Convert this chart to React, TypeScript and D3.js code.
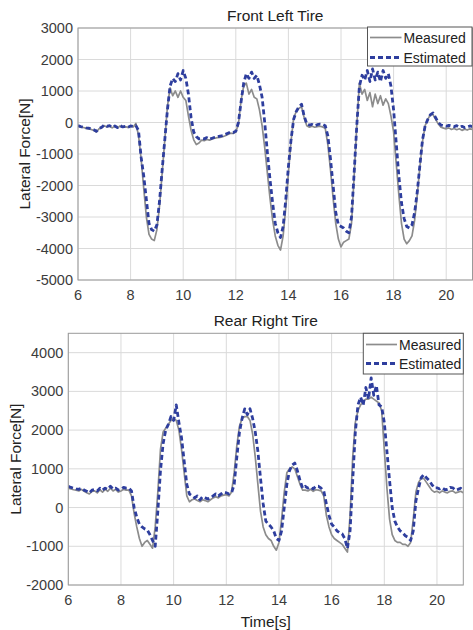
import React from 'react';
import * as d3 from 'd3';

// sample times: 6.0 s .. 21.0 s every 0.1 s
const sampleCount = 151;
const time = d3.range(sampleCount).map((i) => +(6 + i * 0.1).toFixed(1));

const xTickValues = [6, 8, 10, 12, 14, 16, 18, 20];
const flTickValues = [3000, 2000, 1000, 0, -1000, -2000, -3000, -4000, -5000];
const rrTickValues = [4000, 3000, 2000, 1000, 0, -1000, -2000];
const legendLabels = ['Measured', 'Estimated'];

// Front Left Tire
const flMeasured = [
  -100, -140, -160, -180, -200, -220, -250, -300, -200, -170,
  -100, -140, -110, -170, -120, -170, -110, -150, -130, -160,
  -120, -140, -30, -400, -1150, -2100, -3000, -3550, -3700, -3750,
  -3400, -2650, -1600, -550, 500, 1100, 850, 1000, 800, 1000,
  800, 700, 200, -250, -550, -700, -650, -560, -580, -540,
  -560, -520, -500, -480, -470, -450, -420, -380, -340, -350,
  -300, -50, 700, 1150, 1250, 900, 1050, 800, 750, 400,
  -100, -800, -1600, -2400, -3100, -3600, -3900, -4050, -3600, -2700,
  -1600, -600, 150, 350, 450, 500, 150, -100, -150, -120,
  -150, -130, -120, -140, -180, -700, -1500, -2400, -3200, -3700,
  -3950, -3800, -3750, -3700, -3200, -1700, -100, 1250, 900, 1050,
  700, 950, 500, 900, 600, 850, 550, 750, 600, 200,
  -300, -1300, -2300, -3200, -3700, -3850, -3750, -3600, -3100, -2300,
  -1400, -600, -100, 100, 250, 250, 100, -50, -150, -180,
  -200, -170, -220, -190, -230, -200, -250, -210, -240, -200,
  -220,
];
const flEstimated = [
  -100, -130, -150, -170, -180, -200, -230, -280, -200, -150,
  -80, -120, -100, -150, -110, -160, -100, -140, -120, -150,
  -110, -130, -100, -250, -1100, -1700, -2450, -3200, -3400, -3450,
  -3250, -2500, -1500, -550, 400, 1150, 1400, 1300, 1550, 1350,
  1650, 1400, 900, 150, -300, -450, -520, -500, -520, -480,
  -530, -500, -470, -450, -430, -420, -380, -340, -300, -320,
  -280, 0, 650, 1250, 1550, 1400, 1600, 1400, 1500, 1200,
  800, 0, -950, -1800, -2550, -3200, -3500, -3650, -3300, -2450,
  -1400, -550, 100, 350, 500, 580, 200, -50, -80, -60,
  -100, -70, -50, -60, -100, -420, -1150, -2000, -2850, -3250,
  -3300, -3350, -3450, -3500, -3000, -1600, -100, 1150, 1500, 1350,
  1650, 1300, 1700, 1350, 1600, 1300, 1650, 1400, 1550, 1150,
  400, -650, -1700, -2550, -3050, -3300, -3350, -3250, -2850, -2200,
  -1350, -550, -100, 100, 250, 300, 150, 0, -80, -100,
  -120, -90, -110, -130, -100, -150, -120, -160, -140, -110,
  -130,
];

// Rear Right Tire
const rrMeasured = [
  500, 480, 460, 450, 430, 470, 420, 380, 350, 420,
  430, 380, 460, 400, 470, 420, 500, 430, 470, 400,
  430, 470, 450, 450, 300, -150, -500, -800, -1000, -900,
  -850, -950, -1050, -500, 400, 1500, 1950, 2050, 2150, 2250,
  2300, 2250, 2000, 1500, 900, 300, 150, 200, 220, 180,
  150, 200, 180, 150, 200, 250, 280, 250, 300, 320,
  330, 300, 400, 900, 1600, 2100, 2300, 2350, 2350, 2250,
  1900, 1300, 600, -100, -500, -700, -800, -850, -1000, -1100,
  -900, -300, 400, 900, 1000, 1050, 1000, 800, 600, 450,
  450, 430, 470, 420, 460, 450, 430, 300, -200, -500,
  -700, -800, -850, -900, -950, -1050, -1150, -200, 1300, 2200,
  2500, 2650, 2750, 2800, 2800, 2850, 2800, 2750, 2700, 2500,
  1500, 500, -300, -700, -850, -900, -900, -950, -950, -1000,
  -900, -300, 400, 650, 750, 750, 650, 550, 450, 400,
  420, 380, 430, 400, 380, 420, 430, 380, 400, 420,
  380,
];
const rrEstimated = [
  550, 520, 500, 480, 470, 500, 450, 420, 380, 450,
  470, 430, 500, 450, 500, 470, 550, 480, 500, 450,
  470, 520, 500, 500, 430, 0, -250, -430, -500, -550,
  -580, -700, -850, -1000, -100, 950, 1650, 2000, 2150, 2350,
  2250, 2650, 2200, 1800, 1200, 600, 350, 300, 250, 300,
  200, 280, 250, 220, 250, 300, 350, 300, 350, 400,
  380, 350, 380, 600, 1300, 1950, 2300, 2550, 2400, 2550,
  2300, 1950, 1450, 750, 100, -350, -430, -500, -600, -800,
  -850, -600, 0, 600, 950, 1100, 1150, 950, 700, 500,
  550, 500, 530, 480, 550, 550, 500, 430, 100, -200,
  -430, -500, -600, -650, -680, -800, -1050, -600, 700, 1950,
  2650, 2850, 2650, 3100, 2800, 3350, 2900, 3150, 2650, 2600,
  2200, 1450, 700, 0, -350, -500, -600, -650, -730, -770,
  -850, -600, 170, 500, 770, 850, 770, 700, 600, 510,
  510, 480, 510, 460, 470, 520, 510, 450, 470, 500,
  430,
];

const FONT = '"Liberation Sans", Arial, Helvetica, sans-serif';
const GRAY = '#8c8c8c';
const BLUE = '#2e3e9e';
const GRID = '#dadada';
const AXIS = '#9a9a9a';
const TEXT = '#3c3c3c';

type PanelProps = {
  id: string;
  title: string;
  left: number;
  right: number;
  top: number;
  bottom: number;
  yDomain: [number, number];
  yTicks: number[];
  measured: number[];
  estimated: number[];
  yLabelX: number;
  showXLabel: boolean;
  legendBox: { x0: number; y0: number; x1: number; y1: number; row1: number; row2: number; lx0: number; lx1: number };
};

function Panel(p: PanelProps) {
  const x = d3.scaleLinear().domain([6, 21]).range([p.left, p.right]);
  const y = d3.scaleLinear().domain(p.yDomain).range([p.bottom, p.top]);
  const line = d3
    .line<number>()
    .x((_, i) => x(time[i]))
    .y((d) => y(d));
  const lb = p.legendBox;
  return (
    <g>
      <defs>
        <clipPath id={p.id}>
          <rect x={p.left} y={p.top} width={p.right - p.left} height={p.bottom - p.top} />
        </clipPath>
      </defs>
      <rect x={p.left} y={p.top} width={p.right - p.left} height={p.bottom - p.top} fill="#fff" />
      {xTickValues.map((t) => (
        <line key={'gx' + t} x1={x(t)} x2={x(t)} y1={p.top} y2={p.bottom} stroke={GRID} strokeWidth={1} />
      ))}
      {p.yTicks.map((t) => (
        <line key={'gy' + t} x1={p.left} x2={p.right} y1={y(t)} y2={y(t)} stroke={GRID} strokeWidth={1} />
      ))}
      <g clipPath={`url(#${p.id})`}>
        <path d={line(p.measured) || ''} fill="none" stroke={GRAY} strokeWidth={1.7} strokeLinejoin="round" />
        <path
          d={line(p.estimated) || ''}
          fill="none"
          stroke={BLUE}
          strokeWidth={2.8}
          strokeDasharray="5,3"
          strokeLinejoin="round"
        />
      </g>
      <rect x={p.left} y={p.top} width={p.right - p.left} height={p.bottom - p.top} fill="none" stroke={AXIS} strokeWidth={1} />
      {xTickValues.map((t) => (
        <text key={'tx' + t} x={x(t)} y={p.bottom + 20} textAnchor="middle" fontFamily={FONT} fontSize={14.5} fill={TEXT}>
          {t}
        </text>
      ))}
      {p.yTicks.map((t) => (
        <text key={'ty' + t} x={p.left - 5} y={y(t) + 5} textAnchor="end" fontFamily={FONT} fontSize={14.5} fill={TEXT}>
          {t}
        </text>
      ))}
      <text x={(p.left + p.right) / 2} y={p.top - 7} textAnchor="middle" fontFamily={FONT} fontSize={15.5} fill="#222">
        {p.title}
      </text>
      <text
        transform={`translate(${p.yLabelX},${(p.top + p.bottom) / 2}) rotate(-90)`}
        textAnchor="middle"
        fontFamily={FONT}
        fontSize={15.5}
        fill="#222"
      >
        Lateral Force[N]
      </text>
      {p.showXLabel && (
        <text x={(p.left + p.right) / 2} y={p.bottom + 42} textAnchor="middle" fontFamily={FONT} fontSize={15.5} fill="#222">
          Time[s]
        </text>
      )}
      <rect x={lb.x0} y={lb.y0} width={lb.x1 - lb.x0} height={lb.y1 - lb.y0} fill="#fff" stroke="#555" strokeWidth={1} />
      <line x1={lb.lx0} x2={lb.lx1} y1={lb.row1} y2={lb.row1} stroke={GRAY} strokeWidth={1.7} />
      <line x1={lb.lx0} x2={lb.lx1} y1={lb.row2} y2={lb.row2} stroke={BLUE} strokeWidth={2.8} strokeDasharray="5,3" />
      <text x={lb.lx1 + 2} y={lb.row1 + 5} fontFamily={FONT} fontSize={14} fill="#222">
        {legendLabels[0]}
      </text>
      <text x={lb.lx1 + 2} y={lb.row2 + 5} fontFamily={FONT} fontSize={14} fill="#222">
        {legendLabels[1]}
      </text>
    </g>
  );
}

export default function App() {
  return (
    <svg
      width={473}
      height={630}
      viewBox="0 0 473 630"
      style={{ position: 'absolute', left: 0, top: 0, background: '#fff' }}
    >
      <rect x={0} y={0} width={473} height={630} fill="#fff" />
      <Panel
        id="clipFL"
        title="Front Left Tire"
        left={78}
        right={472.5}
        top={28}
        bottom={280}
        yDomain={[-5000, 3000]}
        yTicks={flTickValues}
        measured={flMeasured}
        estimated={flEstimated}
        yLabelX={30}
        showXLabel={false}
        legendBox={{ x0: 367.5, y0: 27, x1: 472, y1: 66, row1: 37.5, row2: 57.5, lx0: 370, lx1: 401.5 }}
      />
      <Panel
        id="clipRR"
        title="Rear Right Tire"
        left={68.3}
        right={463.3}
        top={333.3}
        bottom={585}
        yDomain={[-2000, 4500]}
        yTicks={rrTickValues}
        measured={rrMeasured}
        estimated={rrEstimated}
        yLabelX={21}
        showXLabel={true}
        legendBox={{ x0: 363.3, y0: 333.3, x1: 463.3, y1: 374, row1: 344.5, row2: 363.5, lx0: 366, lx1: 397 }}
      />
    </svg>
  );
}
